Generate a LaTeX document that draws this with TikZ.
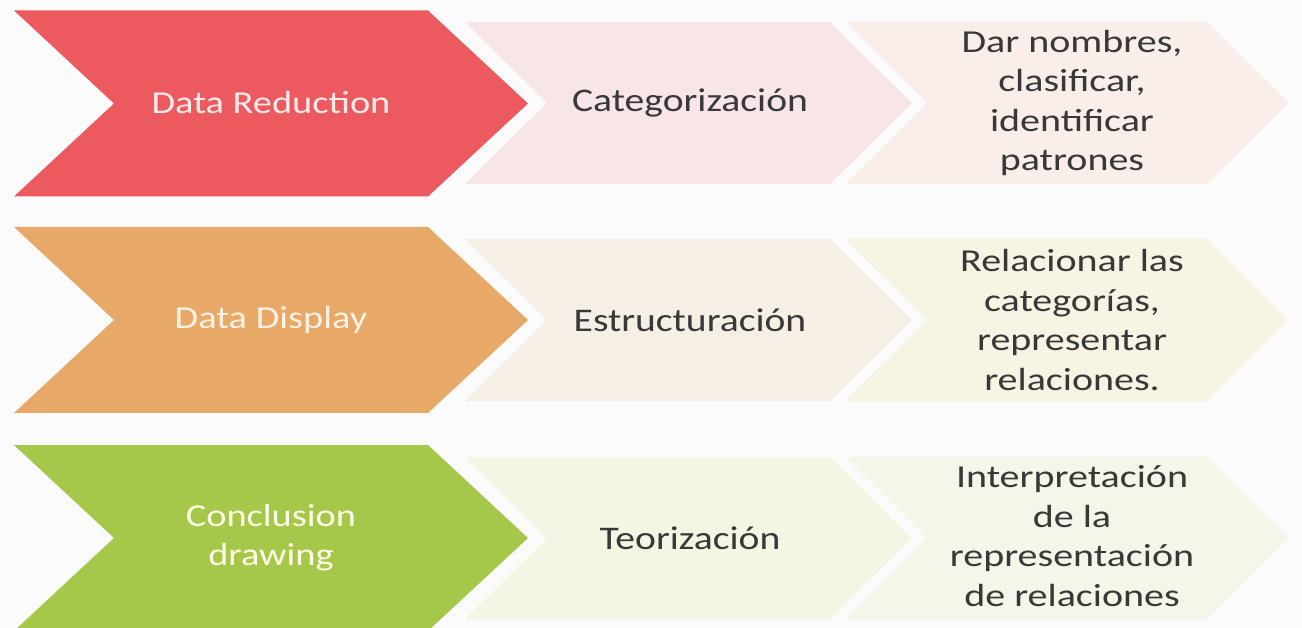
\documentclass[tikz,border=0pt]{standalone}
\usepackage{fontspec}
\setmainfont{Carlito}
\usetikzlibrary{positioning}

\definecolor{paper}{HTML}{FBFBFB}
\definecolor{redchev}{HTML}{EC5A5F}
\definecolor{orangechev}{HTML}{E8A868}
\definecolor{greenchev}{HTML}{A6C84A}
\definecolor{redlight}{HTML}{F7E5E7}
\definecolor{redpale}{HTML}{F9EEEA}
\definecolor{orangelight}{HTML}{F6EFE6}
\definecolor{orangepale}{HTML}{F7F4E4}
\definecolor{greenlight}{HTML}{F5F5E3}
\definecolor{greenpale}{HTML}{F3F6E8}
\definecolor{darktext}{HTML}{383838}

\tikzset{
  lead/.style={xscale=1.2, align=center, font=\fontsize{32}{39}\selectfont},
  mid/.style={xscale=1.2, text=darktext, font=\fontsize{33}{40}\selectfont},
  note/.style={xscale=1.25, text=darktext, align=center, font=\fontsize{32}{39.5}\selectfont}
}

% chevron: left x, centre y, body width, half height, point depth, colour
\newcommand{\chev}[6]{%
  \fill[#6] (#1,#2-#4) -- ++(#3,0) -- ++(#5,#4) -- ++(-#5,#4) -- ++(-#3,0) -- ++(#5,-#4) -- cycle;}

\begin{document}
\begin{tikzpicture}[x=1pt,y=-1pt]
	\fill[paper] (0,0) rectangle (1302,628);
	\useasboundingbox (0,0) rectangle (1302,628);

	% row 1
	\chev{14}{103.5}{414}{93}{100}{redchev}
	\chev{465}{103}{365}{81}{82}{redlight}
	\chev{845}{103}{362}{81}{82}{redpale}
	% row 2
	\chev{14}{320}{414}{93}{100}{orangechev}
	\chev{465}{320}{365}{81}{82}{orangelight}
	\chev{845}{320}{362}{81}{82}{orangepale}
	% row 3
	\chev{14}{538}{414}{93}{100}{greenchev}
	\chev{465}{538}{365}{81}{82}{greenlight}
	\chev{845}{538}{362}{81}{82}{greenpale}

	\node[lead, text=white!92!red] (reduction) at (271,103) {Data Reduction};
	\node[mid] (categ) at (690,103) {Categorización};
	\node[note] (nombres) at (1072,103) {Dar nombres,\\clasificar,\\identificar\\patrones};

	\node[lead, text=white!90!orange] (display) at (271,320) {Data Display};
	\node[mid] (estruct) at (690,320) {Estructuración};
	\node[note] (relac) at (1072,320) {Relacionar las\\categorías,\\representar\\relaciones.};

	\node[lead, text=white!90!yellow] (conclusion) at (271,538) {Conclusion\\drawing};
	\node[mid] (teoriz) at (690,538) {Teorización};
	\node[note] (interp) at (1072,536) {Interpretación\\de la\\representación\\de relaciones};
\end{tikzpicture}
\end{document}
